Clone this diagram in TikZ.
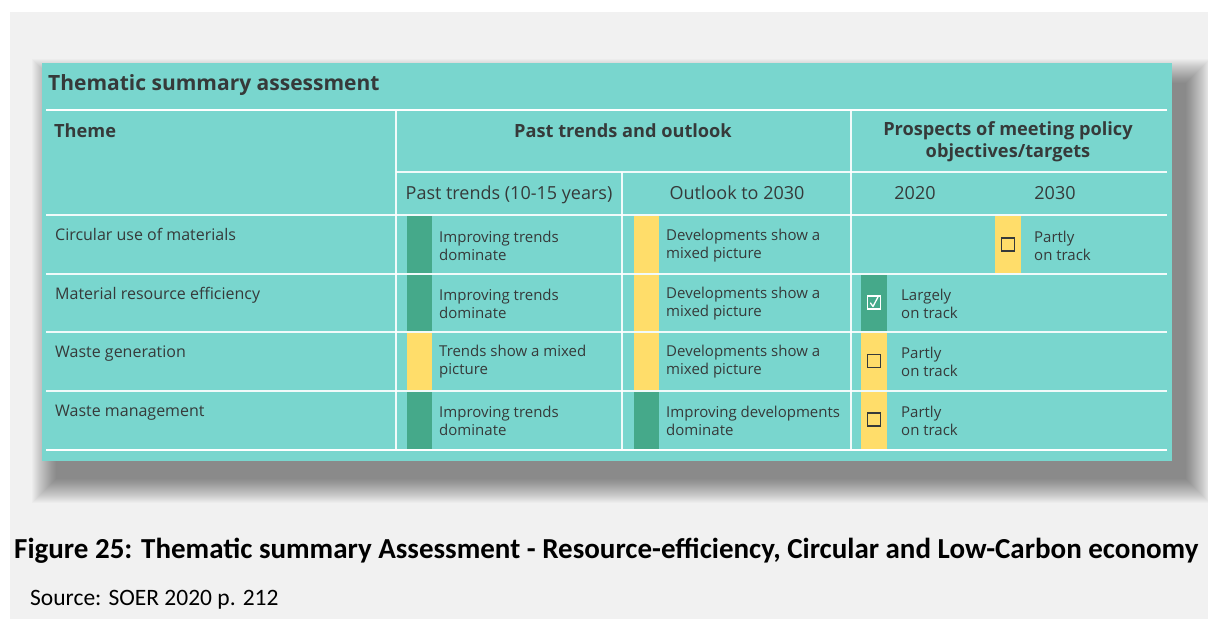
\documentclass[tikz,border=0pt]{standalone}
\usepackage{fontspec}
\setmainfont{Open Sans}
\newfontfamily\capfont{Carlito}
\definecolor{tealbg}{HTML}{79D6CE}
\definecolor{goodgreen}{HTML}{45A98A}
\definecolor{mixyellow}{HTML}{FFDD6A}
\definecolor{bggray}{HTML}{F1F1F1}
\definecolor{txt}{HTML}{363A3A}
\tikzset{
  rule/.style={white, line width=1.3pt, opacity=0.9},
  thickrule/.style={white, line width=2.6pt},
  body/.style={font=\fontsize{15}{18}\selectfont, text=txt, align=left, anchor=west, inner sep=0pt},
  theme/.style={font=\fontsize{16}{19}\selectfont, text=txt, anchor=base west, inner sep=0pt},
  subhead/.style={font=\fontsize{18}{21}\selectfont, text=txt, anchor=base, inner sep=0pt},
  head/.style={font=\bfseries\fontsize{18.2}{22}\selectfont, text=txt, align=center, inner sep=0pt},
  greenbar/.style={fill=goodgreen, draw=none},
  yellowbar/.style={fill=mixyellow, draw=none},
  emptybox/.style={draw=txt, line width=1.1pt, minimum size=13pt, inner sep=0pt},
  checkbox/.style={draw=white, line width=1.1pt, minimum size=13pt, inner sep=0pt}
}
\begin{document}
\begin{tikzpicture}[x=1pt,y=-1pt]
\useasboundingbox (0,0) rectangle (1208,619);
\fill[white] (0,0) rectangle (1208,619);
\fill[bggray] (10,12) rectangle (1208,619);
% shadow
\begin{scope}
\clip (10,12) rectangle (1208,619);
\foreach \s in {0,1,...,24} {
  \fill[black,opacity=0.02] (42+14-\s,63+20-\s) rectangle (1172+14+\s,461+18+\s);
}
\end{scope}
% panel
\fill[tealbg] (42,63) rectangle (1172,461);
\node[font=\bfseries\fontsize{21}{24}\selectfont, text=txt, anchor=base west, inner sep=0pt] (title) at (48,90) {Thematic summary assessment};
% rules
\coordinate (L1) at (46,110); \coordinate (R1) at (1167,110);
\draw[thickrule] (L1) -- (R1);
\coordinate (L2) at (396,172); \coordinate (R2) at (1167,172);
\draw[rule] (L2) -- (R2);
\foreach \yy in {215,274,332,391} {
  \draw[rule] (46,\yy) -- (1167,\yy);
}
\coordinate (L6) at (46,450); \coordinate (R6) at (1167,450);
\draw[thickrule] (L6) -- (R6);
\draw[rule] (396,110) -- (396,450);
\draw[rule] (622,172) -- (622,450);
\draw[rule] (851,110) -- (851,450);
% headers
\node[head, anchor=base west] (hTheme) at (54,137) {Theme};
\node[head, anchor=base] (hPast) at (623,137) {Past trends and outlook};
\node[head, anchor=center] (hProsp) at (1008,142) {Prospects of meeting policy\\objectives/targets};
\node[subhead] (sPast) at (509,199) {Past trends (10-15 years)};
\node[subhead] (sOut) at (737,199) {Outlook to 2030};
\node[subhead] (s2020) at (915,199) {2020};
\node[subhead] (s2030) at (1055,199) {2030};
% themes
\node[theme] (t1) at (55,240) {Circular use of materials};
\node[theme] (t2) at (55,299) {Material resource efficiency};
\node[theme] (t3) at (55,357) {Waste generation};
\node[theme] (t4) at (55,416) {Waste management};
% row 1
\fill[greenbar] (407,216) rectangle (432,273);
\node[body] (p1) at (439,245.5) {Improving trends\\dominate};
\fill[yellowbar] (634,216) rectangle (659,273);
\node[body] (o1) at (666,245.5) {Developments show a\\mixed picture};
\fill[yellowbar] (995,216) rectangle (1021,273);
\node[emptybox] (b1) at (1008,244.5) {};
\node[body] (q1) at (1034,245.5) {Partly\\on track};
% row 2
\fill[greenbar] (407,275) rectangle (432,331);
\node[body] (p2) at (439,303.5) {Improving trends\\dominate};
\fill[yellowbar] (634,275) rectangle (659,331);
\node[body] (o2) at (666,303.5) {Developments show a\\mixed picture};
\fill[greenbar] (861,275) rectangle (887,331);
\node[checkbox] (b2) at (874,302.5) {};
\draw[white, line width=1.3pt, line cap=round, line join=round] ([shift={(-3.5,0.5)}]b2.center) -- ([shift={(-1,4)}]b2.center) -- ([shift={(4.5,-6.5)}]b2.center);
\node[body] (q2) at (901,303.5) {Largely\\on track};
% row 3
\fill[yellowbar] (407,333) rectangle (432,390);
\node[body] (p3) at (439,362) {Trends show a mixed\\picture};
\fill[yellowbar] (634,333) rectangle (659,390);
\node[body] (o3) at (666,362) {Developments show a\\mixed picture};
\fill[yellowbar] (861,333) rectangle (887,390);
\node[emptybox] (b3) at (874,361) {};
\node[body] (q3) at (901,362) {Partly\\on track};
% row 4
\fill[greenbar] (407,392) rectangle (432,449);
\node[body] (p4) at (439,420.5) {Improving trends\\dominate};
\fill[greenbar] (634,392) rectangle (659,449);
\node[body] (o4) at (666,420.5) {Improving developments\\dominate};
\fill[yellowbar] (861,392) rectangle (887,449);
\node[emptybox] (b4) at (874,419.5) {};
\node[body] (q4) at (901,420.5) {Partly\\on track};
% caption
\node[font=\capfont\bfseries\fontsize{29}{32}\selectfont, text=black, anchor=base west, inner sep=0pt] (cap) at (14,558) {Figure 25: Thematic summary Assessment - Resource-efficiency, Circular and Low-Carbon economy};
\node[font=\capfont\fontsize{23.5}{26}\selectfont, text=black, anchor=base west, inner sep=0pt] (src) at (30,605) {Source: SOER 2020 p. 212};
\end{tikzpicture}
\end{document}
